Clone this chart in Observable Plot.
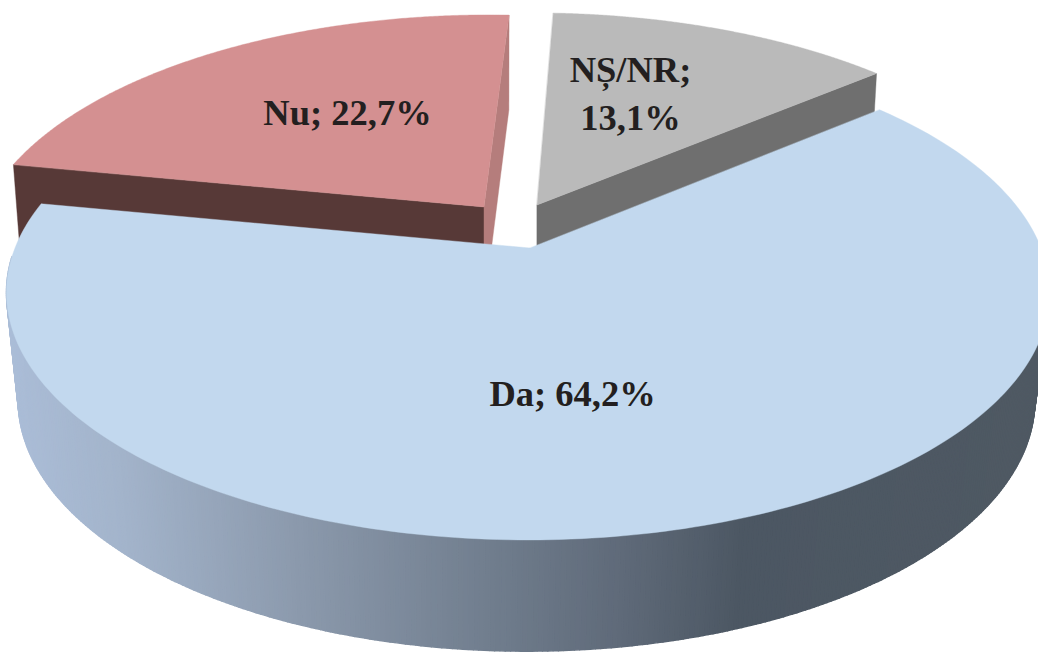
<!DOCTYPE html>
<html>
<head>
<meta charset="utf-8">
<script src="https://cdn.jsdelivr.net/npm/d3@7"></script>
<script src="https://cdn.jsdelivr.net/npm/@observablehq/plot@0.6"></script>
<style>html,body{margin:0;padding:0;background:#fff;overflow:hidden}svg{display:block}</style>
</head>
<body>
<script>
const categories = ["Da", "Nu", "NȘ/NR"];
const values = [64.2, 22.7, 13.1];
const firstAngle = 49.9; // degrees clockwise from the back of the pie
const W = 1038, H = 652;

const layout = {
  "Da":    {ax:530, ay:248, dx:-2, A:513, B:239.4, k:.18, shear:0,     A2:500, B2:243, d:106.8, botDx:-3.5, face:"#c2d8ee", label:[572,390]},
  "Nu":    {ax:484, ay:207, dx:0,  A:499, B:230.5, k:.2,  shear:-.027, A2:491, B2:237, d:100,   botDx:0,    face:"#d49091", wall:"#573937", inner:"#b57d7c", label:[347,109]},
  "NȘ/NR": {ax:537, ay:205, dx:0,  A:505, B:230.5, k:.2,  shear:.02,   A2:497, B2:237, d:100,   botDx:0,    face:"#bababa", wall:"#6f6f6f", label:[630,90]}
};
const sideVisible = [92, 268]; // part of Da's curved side that shows in front
const sideX = [20, 120, 300, 500, 620, 740, 1038];
const sideColors = ["#aabcd6", "#a3b4cb", "#8b99ac", "#6f7c8c", "#5f6a79", "#4c5763", "#4f5963"];

// slice angles from the values
let acc = firstAngle;
const slices = categories.map((c, i) => {
  const a0 = acc, a1 = acc + values[i] * 3.6;
  acc = a1;
  return {c, a0, a1, v: values[i], ...layout[c]};
});
const rad = d => d * Math.PI / 180;
function topPt(s, deg) {
  const u = Math.sin(rad(deg)), v = -Math.cos(rad(deg)), q = 1 - s.k * v;
  const dy = s.B * v / q;
  return [s.ax + s.dx + s.A * u / q + s.shear * dy, s.ay + dy];
}
function botPt(s, deg) {
  const u = Math.sin(rad(deg)), v = -Math.cos(rad(deg)), q = 1 - s.k * v;
  const dy = s.B2 * v / q;
  return [s.ax + s.botDx + s.A2 * u / q + s.shear * dy, s.ay + s.d + dy];
}
const sector = s => d3.range(0, 241).map(i => {
  const a = s.a0 + (s.a1 - s.a0) * i / 240;
  const p = topPt(s, a);
  return {x1: s.ax, y1: s.ay, x2: p[0], y2: p[1]};
});
function quad(p1, p2, q1, q2) { // ruled wall between edge p1-p2 and edge q1-q2
  return [{x1:p1[0], y1:p1[1], x2:q1[0], y2:q1[1]}, {x1:p2[0], y1:p2[1], x2:q2[0], y2:q2[1]}];
}
const face = (data, fill) => Plot.area(data, {x1:"x1", y1:"y1", x2:"x2", y2:"y2", fill, stroke:fill, strokeWidth:.4});

const [da, nu, ns] = slices;

// Da's curved side, cut in narrow strips shaded by the colour scale
const strips = [];
for (let a = sideVisible[0]; a < sideVisible[1]; a += .5) {
  const a2 = a + .5;
  const t1 = topPt(da, a), t2 = topPt(da, a2), b1 = botPt(da, a), b2 = botPt(da, a2);
  const mid = (b1[0] + b2[0] + t1[0] + t2[0]) / 4;
  strips.push({id:a, mid, x1:t1[0], y1:t1[1], x2:b1[0], y2:b1[1]},
              {id:a, mid, x1:t2[0], y1:t2[1], x2:b2[0], y2:b2[1]});
}

const chart = Plot.plot({
  width: W, height: H,
  margin: 0,
  x: {domain:[0, W], range:[0, W], axis:null},
  y: {domain:[0, H], range:[0, H], axis:null},
  color: {type:"linear", domain:sideX, range:sideColors},
  style: {background:"#fff"},
  marks: [
    // Nu walls
    face(quad([nu.ax, nu.ay], topPt(nu, nu.a0), [nu.ax, nu.ay + nu.d], botPt(nu, nu.a0)), nu.wall),
    face(quad([nu.ax, nu.ay], topPt(nu, nu.a1), [nu.ax, nu.ay + nu.d], botPt(nu, nu.a1)), nu.inner),
    face(sector(nu), nu.face),
    // NS walls
    face(quad([ns.ax, ns.ay], topPt(ns, ns.a1), [ns.ax, ns.ay + ns.d], botPt(ns, ns.a1)), ns.wall),
    face(sector(ns), ns.face),
    // Da side and top
    Plot.area(strips, {x1:"x1", y1:"y1", x2:"x2", y2:"y2", z:"id", fill:"mid", stroke:"mid", strokeWidth:1.5}),
    face(sector(da), da.face),
    // labels
    Plot.text(slices, {
      x: d => d.label[0], y: d => d.label[1],
      text: d => {
        const n = d.v.toFixed(1).replace(".", ",") + "%";
        return d.c === "NȘ/NR" ? d.c + ";\n" + n : d.c + "; " + n;
      },
      fontFamily: "Liberation Serif", fontWeight: "bold", fontSize: 36.5,
      lineHeight: 1.32, fill: "#231f20", textAnchor: "middle"
    })
  ]
});
document.body.appendChild(chart);
</script>
</body>
</html>
